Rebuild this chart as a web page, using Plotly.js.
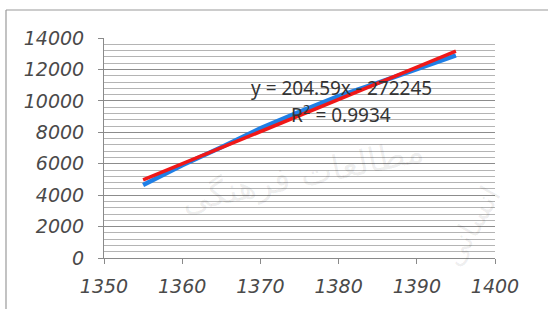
<!DOCTYPE html>
<html>
<head>
<meta charset="utf-8">
<script src="https://cdn.plot.ly/plotly-3.0.1.min.js"></script>
<style>html,body{margin:0;padding:0;background:#fff;}#chart{width:548px;height:309px;}</style>
</head>
<body>
<div id="chart"></div>
<script>
// Data
const years = [1355, 1360, 1365, 1370, 1375, 1380, 1385, 1390, 1395];
const values = [4650, 5900, 7050, 8250, 9300, 10300, 11150, 12050, 12900];
// Linear trendline shown on the chart
const trendSlope = 204.59;
const trendIntercept = -272245;
const trendR2 = 0.9934;
const trendX = [1355, 1395];
const trendY = trendX.map(x => trendSlope * x + trendIntercept);
const xTicks = [1350, 1360, 1370, 1380, 1390, 1400];
const yTicks = [0, 2000, 4000, 6000, 8000, 10000, 12000, 14000];

const L = 104, R = 495, T = 38, B = 258;
const px = x => (x - L) / (R - L);
const py = y => (B - y) / (B - T);

const tickFont = {family: 'DejaVu Sans', size: 19, color: '#4a4a4a', style: 'italic'};

const traces = [
  {x: years, y: values, type: 'scatter', mode: 'lines', line: {color: '#1f7fe6', width: 4.5}, hoverinfo: 'skip'},
  {x: trendX, y: trendY, type: 'scatter', mode: 'lines', line: {color: '#f01818', width: 3.5}, hoverinfo: 'skip'}
];

const layout = {
  width: 548, height: 309,
  margin: {l: L, r: 548 - R, t: T, b: 309 - B, pad: 0},
  paper_bgcolor: '#ffffff', plot_bgcolor: '#ffffff',
  showlegend: false,
  xaxis: {
    range: [1350, 1400], tickvals: xTicks, ticktext: xTicks.map(String),
    showgrid: false, zeroline: false, showline: true, linecolor: '#8a8a8a', linewidth: 1,
    ticks: 'outside', ticklen: 5, tickcolor: '#8a8a8a', tickfont: tickFont, ticklabelstandoff: 6
  },
  yaxis: {
    range: [0, 14000], tickvals: yTicks, ticktext: yTicks.map(String),
    showgrid: true, gridcolor: '#8c8c8c', gridwidth: 1, zeroline: false,
    showline: true, linecolor: '#8a8a8a', linewidth: 1,
    ticks: 'outside', ticklen: 5, tickcolor: '#8a8a8a', tickfont: tickFont, ticklabelstandoff: 10,
    minor: {dtick: 400, showgrid: true, gridcolor: '#b4b4b4', gridwidth: 1, ticks: ''}
  },
  annotations: [
    {xref: 'paper', yref: 'paper', x: px(430), y: py(175), text: 'مطالعات فرهنگی', showarrow: false, textangle: -12,
     font: {family: 'DejaVu Sans', size: 34, color: 'rgba(0,0,0,0.07)'}},
    {xref: 'paper', yref: 'paper', x: px(510), y: py(275), text: 'انسانی', showarrow: false, textangle: -60,
     font: {family: 'DejaVu Sans', size: 30, color: 'rgba(0,0,0,0.07)'}},
    {xref: 'paper', yref: 'paper', x: px(341), y: py(73), text: 'y = ' + trendSlope + 'x - ' + Math.abs(trendIntercept), showarrow: false,
     font: {family: 'Noto Sans', size: 19, color: '#333333'}},
    {xref: 'paper', yref: 'paper', x: px(341), y: py(98), text: 'R<sup>2</sup> = ' + trendR2, showarrow: false,
     font: {family: 'Noto Sans', size: 19, color: '#333333'}}
  ],
  shapes: [
    {type: 'line', xref: 'paper', yref: 'paper', x0: px(6), x1: px(548), y0: py(10), y1: py(10), line: {color: '#9a9a9a', width: 1.2}},
    {type: 'line', xref: 'paper', yref: 'paper', x0: px(6), x1: px(6), y0: py(10), y1: py(309), line: {color: '#9a9a9a', width: 1.2}}
  ]
};

Plotly.newPlot('chart', traces, layout, {staticPlot: true, displayModeBar: false});
</script>
</body>
</html>
